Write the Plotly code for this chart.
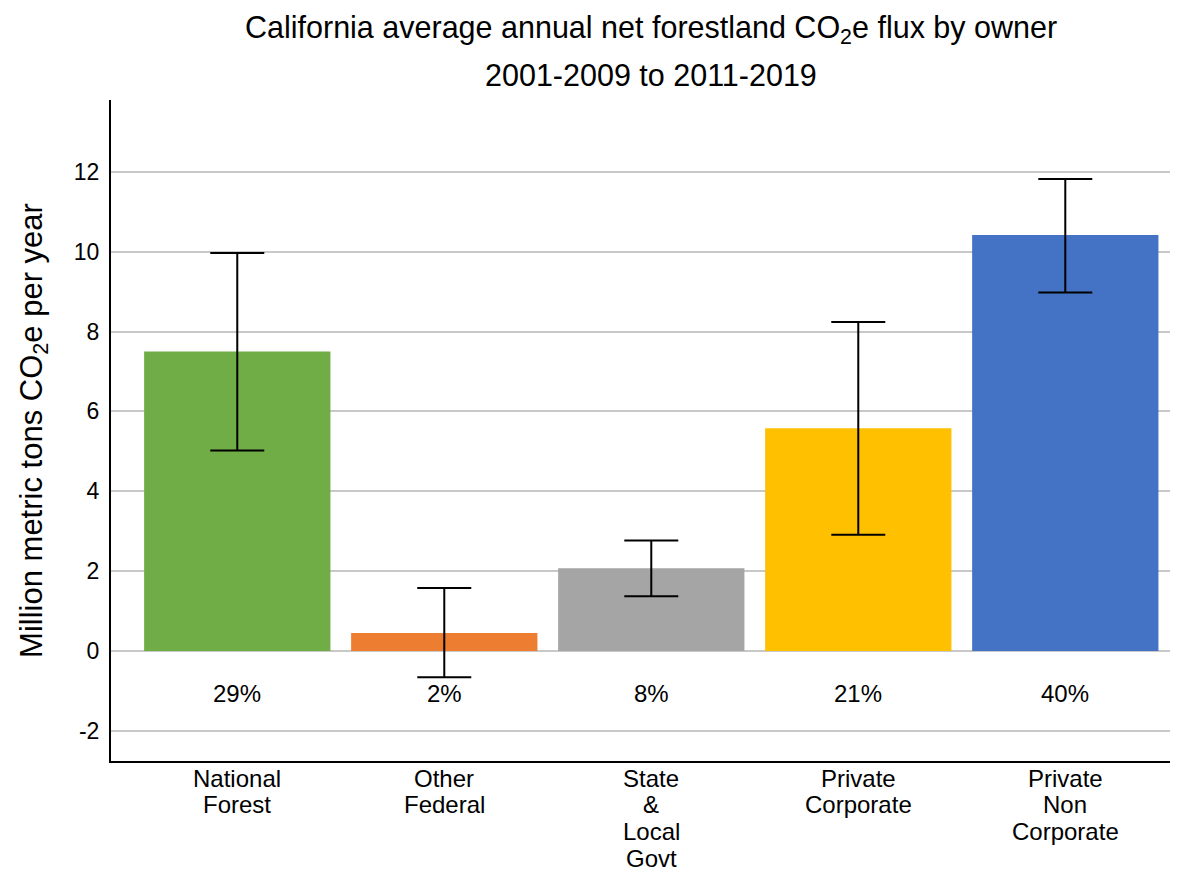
import plotly.graph_objects as go

categories = ["National<br>Forest", "Other<br>Federal", "State<br>&<br>Local<br>Govt",
              "Private<br>Corporate", "Private<br>Non<br>Corporate"]
values = [7.50, 0.45, 2.07, 5.58, 10.42]
err_upper = [9.97, 1.58, 2.77, 8.24, 11.82]
err_lower = [5.02, -0.66, 1.37, 2.91, 8.98]
shares = ["29%", "2%", "8%", "21%", "40%"]
colors = ["#70AD47", "#ED7D31", "#A5A5A5", "#FFC000", "#4472C4"]
y_ticks = [-2, 0, 2, 4, 6, 8, 10, 12]
y_ticktext = ["-2", "0", "2", "4", "6", "8", "10", "12"]

FONT = "Liberation Sans, Arial"
x_idx = list(range(len(categories)))
plus = [u - v for u, v in zip(err_upper, values)]
minus = [v - l for v, l in zip(values, err_lower)]

fig = go.Figure()
fig.add_trace(go.Bar(
    x=x_idx, y=values, width=0.9,
    marker=dict(color=colors, line=dict(width=0)),
    error_y=dict(type="data", symmetric=False, array=plus, arrayminus=minus,
                 color="black", thickness=2, width=27),
    showlegend=False,
))

for i, s in enumerate(shares):
    fig.add_annotation(x=i, y=-1.06, xref="x", yref="y", text=s, showarrow=False,
                       font=dict(size=24, color="black", family=FONT))

# category labels, one annotation per line for tight line spacing
for i, cat in enumerate(categories):
    for k, line in enumerate(cat.split("<br>")):
        fig.add_annotation(x=i, xref="x", y=0, yref="paper", yanchor="middle",
                           yshift=-(17 + 26.7 * k), text=line, showarrow=False,
                           font=dict(size=24, color="black", family=FONT))

fig.add_annotation(x=2, xref="x", y=1.106, yref="paper", yanchor="middle", showarrow=False,
                   text="California average annual net forestland CO<sub>2</sub>e flux by owner",
                   font=dict(size=30.5, color="black", family=FONT))
fig.add_annotation(x=2, xref="x", y=1.038, yref="paper", yanchor="middle", showarrow=False,
                   text="2001-2009 to 2011-2019",
                   font=dict(size=30.5, color="black", family=FONT))

fig.update_layout(
    width=1170, height=861,
    margin=dict(l=103, r=3, t=92, b=108),
    plot_bgcolor="white", paper_bgcolor="white",
    font=dict(family=FONT, color="black"),
    bargap=0.1,
)
fig.update_xaxes(
    range=[-0.61, 4.53], tickmode="array", tickvals=x_idx, showticklabels=False,
    showline=True, linecolor="black", linewidth=2, showgrid=False, ticks="",
    zeroline=False, automargin=False,
)
fig.update_yaxes(
    range=[-2.755, 13.8], tickmode="array", tickvals=y_ticks, ticktext=y_ticktext,
    showline=True, linecolor="black", linewidth=2, showgrid=True,
    gridcolor="#C8C8C8", gridwidth=2, zeroline=True, zerolinecolor="#C8C8C8",
    zerolinewidth=2, ticks="", tickfont=dict(size=23, color="black"),
    ticklabelstandoff=5, automargin=False,
    title=dict(text="Million metric tons CO<sub>2</sub>e per year",
               font=dict(size=31, color="black"), standoff=22),
)

fig.write_html("out.html")
